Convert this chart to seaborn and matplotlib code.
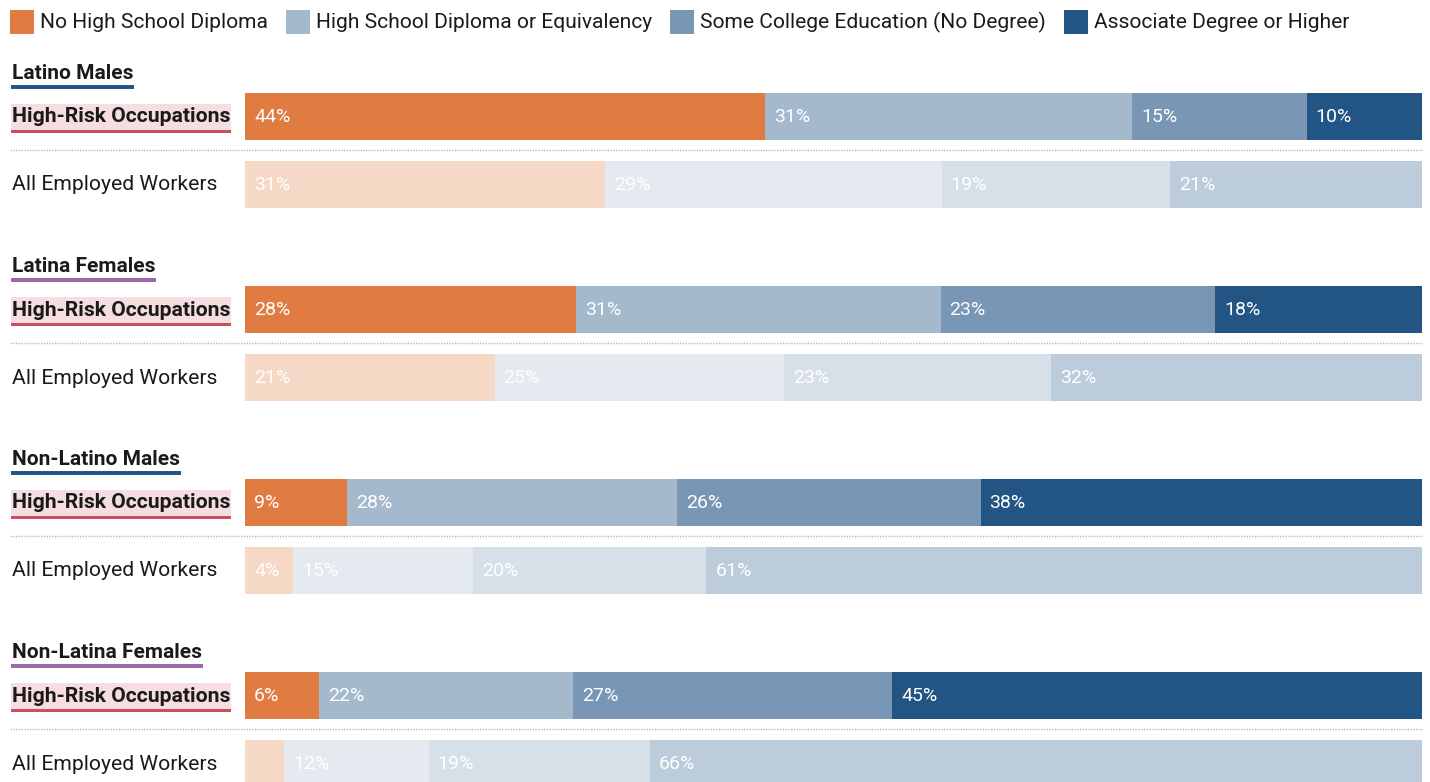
import numpy as np
import pandas as pd
import seaborn as sns
import matplotlib
matplotlib.use("Agg")
import matplotlib.pyplot as plt
from matplotlib.patches import Rectangle
from matplotlib.colors import to_rgb

# ---------------- data ----------------
categories = ["No High School Diploma", "High School Diploma or Equivalency",
              "Some College Education (No Degree)", "Associate Degree or Higher"]
cat_colors = ["#E07C42", "#A5B9CD", "#7997B4", "#225583"]
groups = ["Latino Males", "Latina Females", "Non-Latino Males", "Non-Latina Females"]
group_colors = ["#245687", "#9B69A8", "#245687", "#9B69A8"]
row_kinds = ["High-Risk Occupations", "All Employed Workers"]

# rows: LM-HR, LM-All, LF-HR, LF-All, NLM-HR, NLM-All, NLF-HR, NLF-All
no_hs    = [44.2, 30.6, 28.1, 21.2, 8.7, 4.1, 6.3, 3.3]
hs       = [31.2, 28.6, 31.0, 24.6, 28.0, 15.3, 21.6, 12.3]
some_col = [14.8, 19.4, 23.3, 22.7, 25.8, 19.8, 27.1, 18.8]
assoc    = [9.8, 21.4, 17.6, 31.5, 37.5, 60.8, 45.0, 65.6]

# ---------------- layout (pixels) ----------------
W, H = 1430, 782
X0, X1 = 245, 1422            # bar extent in pixels (0% .. 100%)
PX = (X1 - X0) / 100.0
def xd(px):
    return (px - X0) / PX

group_top = [72, 265, 458, 651]      # title centre y
hr_y = [g + 44 for g in group_top]
all_y = [g + 112 for g in group_top]
bar_h = 47

sns.set_theme(style="white")
plt.rcParams["font.family"] = ["Roboto", "DejaVu Sans"]

fig = plt.figure(figsize=(W / 100, H / 100), dpi=100)
ax = fig.add_axes([0, 0, 1, 1])

ypos, kind = [], []
for g in range(4):
    ypos += [hr_y[g], all_y[g]]
    kind += ["hr", "all"]
seg = np.array([no_hs, hs, some_col, assoc])    # 4 x 8
cum = np.cumsum(seg, axis=0)
df = pd.DataFrame({"ypos": ypos, "kind": kind})
for k in range(4):
    df[f"cum{k}"] = cum[k]

def light(c, a=0.3):
    r = np.array(to_rgb(c))
    return tuple(1 - a * (1 - r))

width_rel = bar_h / (all_y[0] - hr_y[0])
for k in reversed(range(4)):
    sns.barplot(data=df, x=f"cum{k}", y="ypos", hue="kind", orient="h",
                native_scale=True, dodge=False, width=width_rel,
                palette={"hr": cat_colors[k], "all": light(cat_colors[k])},
                saturation=1, errorbar=None, legend=False, linewidth=0, ax=ax)

ax.set_xlim(xd(0), xd(W))
ax.set_ylim(H, 0)
ax.set_axis_off()

# segment labels
for r in range(8):
    start = 0.0
    for k in range(4):
        v = seg[k, r]
        if v >= 3.5:
            ax.text(start + 9 / PX, ypos[r] + 1, f"{int(np.floor(v + 0.5))}%",
                    color="white", fontsize=14, fontweight="normal",
                    va="center", ha="left")
        start += v

fig.canvas.draw()
renderer = fig.canvas.get_renderer()

def text_extent(t):
    bb = t.get_window_extent(renderer)
    return bb.x0, bb.x1

# group titles, row labels
for g in range(4):
    t = ax.text(xd(12), group_top[g] + 1.5, groups[g], fontsize=15, fontweight="bold",
                color="#1a1a1a", va="center", ha="left", zorder=5)
    x0, x1 = text_extent(t)
    ax.add_patch(Rectangle((xd(x0 - 1), group_top[g] + 12.5), (x1 - x0 + 2) / PX, 4,
                           facecolor=group_colors[g], edgecolor="none", zorder=4))
    # high-risk label with highlight
    t2 = ax.text(xd(12), hr_y[g] + 1, row_kinds[0], fontsize=15.2, fontweight="bold",
                 color="#1a1a1a", va="center", ha="left", zorder=5)
    x0, x1 = text_extent(t2)
    ax.add_patch(Rectangle((xd(x0 - 1), hr_y[g] - 12), (x1 - x0 + 2) / PX, 28,
                           facecolor="#F5DDE0", edgecolor="none", zorder=3))
    ax.add_patch(Rectangle((xd(x0 - 1), hr_y[g] + 13.5), (x1 - x0 + 2) / PX, 3,
                           facecolor="#C8505C", edgecolor="none", zorder=4))
    ax.text(xd(12), all_y[g] + 1, row_kinds[1], fontsize=15.2, color="#1a1a1a",
            va="center", ha="left", zorder=5)
    # dotted separator
    ax.plot([xd(10), xd(X1)], [hr_y[g] + 34, hr_y[g] + 34], color="#BBBBBB",
            linestyle=(0, (1, 1)), linewidth=1, zorder=2)

# legend
lx = 10
for k in range(4):
    ax.add_patch(Rectangle((xd(lx), 10), 24 / PX, 24, facecolor=cat_colors[k],
                           edgecolor="none", zorder=5))
    t = ax.text(xd(lx + 30), 22, categories[k], fontsize=15.1, color="#1a1a1a",
                va="center", ha="left", zorder=5)
    x0, x1 = text_extent(t)
    lx = x1 + 18

fig.savefig("out.png", dpi=100)
